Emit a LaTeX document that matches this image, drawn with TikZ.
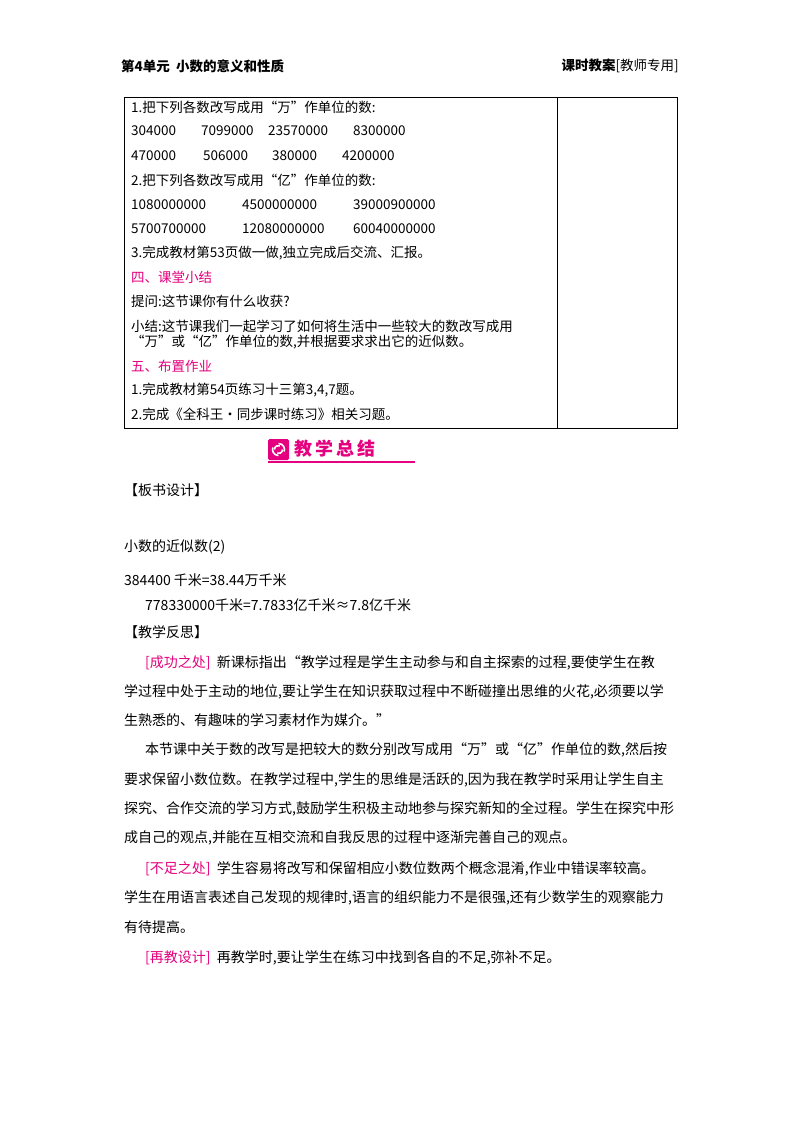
\documentclass[tikz,border=0pt]{standalone}
\usepackage{fontspec}
\setmainfont{Noto Sans CJK SC}
\newfontfamily\cjk{Noto Sans CJK SC}
\definecolor{mag}{HTML}{E4007F}
\begin{document}
\begin{tikzpicture}[x=1pt,y=-1pt,
 t/.style={anchor=west,inner sep=0,font=\cjk\fontsize{13.5}{14}\selectfont},
 p/.style={anchor=west,inner sep=0,font=\cjk\fontsize{14}{14}\selectfont},
 h/.style={anchor=west,inner sep=0,font=\cjk\fontsize{13.5}{14}\selectfont\bfseries},
 pk/.style={text=mag}]
\useasboundingbox[fill=white] (0,0) rectangle (800,1132);
% header
\node[h] (hl) at (121,66) {第4单元\ \ 小数的意义和性质};
\node[h,anchor=east] (hr) at (679,66) {课时教案{\mdseries[教师专用]}};
% table
\draw[line width=0.9] (124,97) rectangle (677,428);
\draw[line width=0.9] (557,97) -- (557,428);
\node[t] (a1) at (131,107) {1.把下列各数改写成用“万”作单位的数:};
\node[t] at (131,131) {304000};\node[t] at (201,131) {7099000};\node[t] at (268,131) {23570000};\node[t] at (353,131) {8300000};
\node[t] at (131,156) {470000};\node[t] at (203,156) {506000};\node[t] at (272,156) {380000};\node[t] at (342,156) {4200000};
\node[t] (a2) at (131,180) {2.把下列各数改写成用“亿”作单位的数:};
\node[t] at (131,205) {1080000000};\node[t] at (242,205) {4500000000};\node[t] at (353,205) {39000900000};
\node[t] at (131,229) {5700700000};\node[t] at (242,229) {12080000000};\node[t] at (353,229) {60040000000};
\node[t] (a3) at (131,253) {3.完成教材第53页做一做,独立完成后交流、汇报。};
\node[t,pk] (s4) at (131,277) {四、课堂小结};
\node[t] (q) at (131,301) {提问:这节课你有什么收获?};
\node[t] (x1) at (131,326) {小结:这节课我们一起学习了如何将生活中一些较大的数改写成用};
\node[t] (x2) at (131,342) {“万”或“亿”作单位的数,并根据要求求出它的近似数。};
\node[t,pk] (s5) at (131,366) {五、布置作业};
\node[t] (w1) at (131,390) {1.完成教材第54页练习十三第3,4,7题。};
\node[t] (w2) at (131,414) {2.完成《全科王·同步课时练习》相关习题。};
% badge
\fill[mag,rounded corners=1.5] (268,439) rectangle (289,460);
\begin{scope}[white,line width=1.6]
\draw (278.5,449.5) ++(90:6) arc (90:200:6);
\draw (278.5,449.5) ++(270:6) arc (270:380:6);
\draw (278.5,449.5) ++(0:4) arc (0:110:4);
\draw (278.5,449.5) ++(180:4) arc (180:290:4);
\end{scope}
\node[anchor=west,inner sep=0,text=mag,font=\cjk\fontsize{18}{18}\selectfont\bfseries] (bt) at (294,449) {教\,学\,总\,结};
\draw[draw=mag,line width=1.3] (268,462) -- (415,462);
% body
\node[p] (bs) at (124,490) {【板书设计】};
\node[p] at (124,547) {小数的近似数(2)};
\node[p] at (124,580) {384400\ 千米=38.44万千米};
\node[p] at (145,605) {778330000千米=7.7833亿千米≈7.8亿千米};
\node[p] (fs) at (124,632) {【教学反思】};
\node[p] at (145,663) {{\color{mag}[成功之处]}\ \ 新课标指出“教学过程是学生主动参与和自主探索的过程,要使学生在教};
\node[p] at (124,692) {学过程中处于主动的地位,要让学生在知识获取过程中不断碰撞出思维的火花,必须要以学};
\node[p] at (124,720) {生熟悉的、有趣味的学习素材作为媒介。”};
\node[p] at (145,750) {本节课中关于数的改写是把较大的数分别改写成用“万”或“亿”作单位的数,然后按};
\node[p] at (124,780) {要求保留小数位数。在教学过程中,学生的思维是活跃的,因为我在教学时采用让学生自主};
\node[p] at (124,809) {探究、合作交流的学习方式,鼓励学生积极主动地参与探究新知的全过程。学生在探究中形};
\node[p] at (124,838) {成自己的观点,并能在互相交流和自我反思的过程中逐渐完善自己的观点。};
\node[p] at (145,869) {{\color{mag}[不足之处]}\ \ 学生容易将改写和保留相应小数位数两个概念混淆,作业中错误率较高。};
\node[p] at (124,898) {学生在用语言表述自己发现的规律时,语言的组织能力不是很强,还有少数学生的观察能力};
\node[p] at (124,927) {有待提高。};
\node[p] at (145,958) {{\color{mag}[再教设计]}\ \ 再教学时,要让学生在练习中找到各自的不足,弥补不足。};
\end{tikzpicture}
\end{document}
